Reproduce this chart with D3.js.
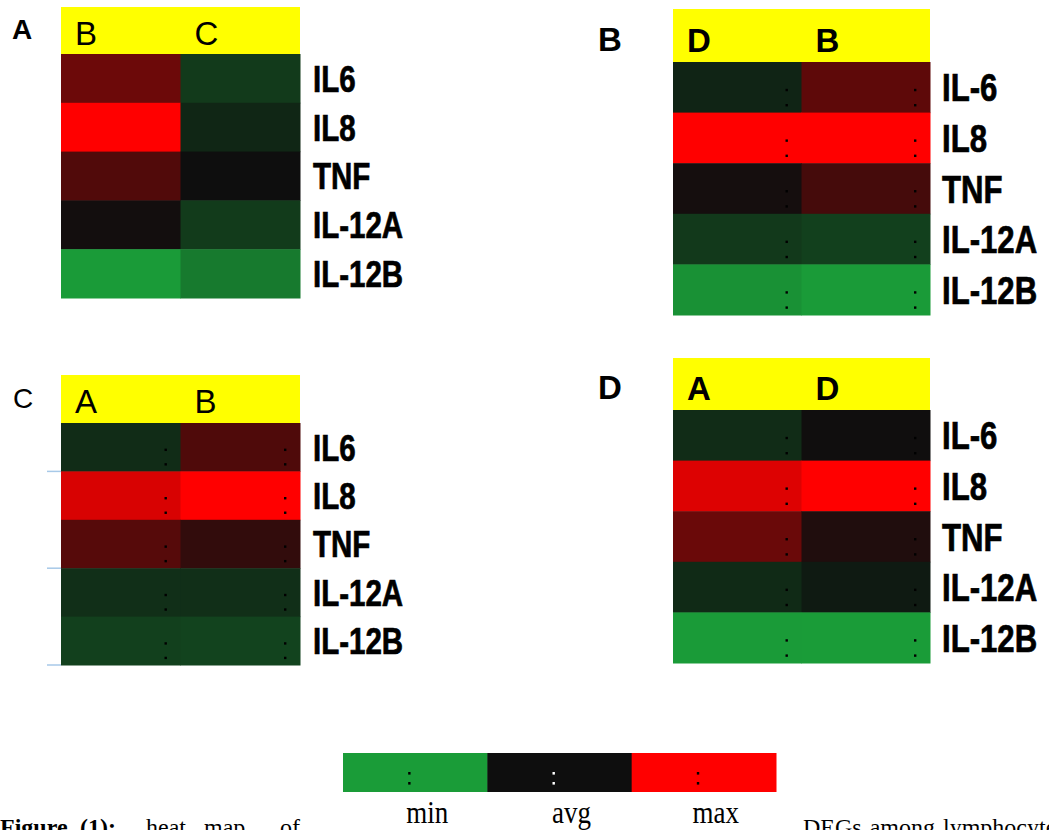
<!DOCTYPE html>
<html>
<head>
<meta charset="utf-8">
<script src="https://cdn.jsdelivr.net/npm/d3@7"></script>
<style>
  html, body { margin: 0; padding: 0; background: #fff; }
  svg { display: block; }
</style>
</head>
<body>
<svg id="chart" width="1049" height="830"></svg>
<script>
// ---------------- DATA ----------------
const panelLabels = ["A", "B", "C", "D"];
const genesAC = ["IL6", "IL8", "TNF", "IL-12A", "IL-12B"];
const genesBD = ["IL-6", "IL8", "TNF", "IL-12A", "IL-12B"];

const groupsA = ["B", "C"];
const groupsB = ["D", "B"];
const groupsC = ["A", "B"];
const groupsD = ["A", "D"];

// expression (scaled -1 = min, 0 = avg, 1 = max), rows = genes, cols = groups
const valuesA = [[0.39, -0.31], [1.00, -0.17], [0.28, 0.00], [0.02, -0.32], [-0.99, -0.76]];
const valuesB = [[-0.155, 0.33], [1.00, 1.00], [0.03, 0.23], [-0.30, -0.35], [-0.92, -0.99]];
const valuesC = [[-0.21, 0.27], [0.84, 1.00], [0.30, 0.15], [-0.23, -0.23], [-0.35, -0.37]];
const valuesD = [[-0.21, 0.01], [0.86, 1.00], [0.38, 0.075], [-0.20, -0.085], [-0.99, -1.00]];

const legendLabels = ["min", "avg", "max"];
const legendValues = [-1, 0, 1];

// ---------------- LAYOUT ----------------
const svg = d3.select("#chart");
svg.append("rect").attr("width", 1049).attr("height", 830).attr("fill", "#fff");

const color = d3.scaleLinear()
  .domain([-1, 0, 1])
  .range(["#1a9c38", "#0e0e0e", "#ff0000"])
  .interpolate(d3.interpolateRgb);

const panels = [
  { label: panelLabels[0], genes: genesAC, groups: groupsA, values: valuesA,
    x0: 61, x1: 300, hTop: 7, hBot: 54, rBot: 298, labX: 12, labY: 39, labSize: 28, labBold: true,
    headBold: false, headY: 45, geneX: 313, geneSize: 36, dots: false, blue: false },
  { label: panelLabels[1], genes: genesBD, groups: groupsB, values: valuesB,
    x0: 673, x1: 930, hTop: 9, hBot: 62, rBot: 315, labX: 598, labY: 51, labSize: 33, labBold: true,
    headBold: true, headY: 52, geneX: 942, geneSize: 38, dots: true, blue: false },
  { label: panelLabels[2], genes: genesAC, groups: groupsC, values: valuesC,
    x0: 61, x1: 300, hTop: 375, hBot: 423, rBot: 665, labX: 13, labY: 408, labSize: 28, labBold: false,
    headBold: false, headY: 413, geneX: 313, geneSize: 36, dots: true, blue: true },
  { label: panelLabels[3], genes: genesBD, groups: groupsD, values: valuesD,
    x0: 673, x1: 930, hTop: 358, hBot: 410, rBot: 663, labX: 598, labY: 399, labSize: 33, labBold: true,
    headBold: true, headY: 400, geneX: 942, geneSize: 38, dots: true, blue: false }
];

panels.forEach(p => {
  const g = svg.append("g");
  const x = d3.scaleBand().domain(p.groups).range([p.x0, p.x1]);
  const y = d3.scaleBand().domain(p.genes).range([p.hBot, p.rBot]);

  // panel label
  g.append("text")
    .attr("x", p.labX).attr("y", p.labY)
    .attr("font-family", "Liberation Sans, Arial, sans-serif")
    .attr("font-size", p.labSize)
    .attr("font-weight", p.labBold ? "bold" : "normal")
    .attr("fill", "#000")
    .text(p.label);

  // yellow header
  g.append("rect")
    .attr("x", p.x0).attr("y", p.hTop)
    .attr("width", p.x1 - p.x0).attr("height", p.hBot - p.hTop)
    .attr("fill", "#ffff00");

  g.selectAll("text.head").data(p.groups).enter().append("text")
    .attr("class", "head")
    .attr("x", d => x(d) + 14)
    .attr("y", p.headY)
    .attr("font-family", "Liberation Sans, Arial, sans-serif")
    .attr("font-size", 33)
    .attr("font-weight", p.headBold ? "bold" : "normal")
    .attr("fill", "#000")
    .text(d => d);

  // cells
  const cells = [];
  p.genes.forEach((gene, i) => p.groups.forEach((grp, j) => cells.push({ gene, grp, v: p.values[i][j] })));

  g.selectAll("rect.cell").data(cells).enter().append("rect")
    .attr("class", "cell")
    .attr("x", d => x(d.grp)).attr("y", d => y(d.gene))
    .attr("width", x.bandwidth() + 0.5).attr("height", y.bandwidth() + 0.5)
    .attr("fill", d => color(d.v));

  // colon-like dot marks
  if (p.dots) {
    const dotFr = [0.55, 0.85];
    const dots = [];
    cells.forEach(c => dotFr.forEach(f => dots.push({ c, f })));
    g.selectAll("rect.dot").data(dots).enter().append("rect")
      .attr("class", "dot")
      .attr("x", d => x(d.c.grp) + x.bandwidth() - 16)
      .attr("y", d => y(d.c.gene) + y.bandwidth() * d.f - 1)
      .attr("width", 2.4).attr("height", 2.4)
      .attr("fill", "#000");
  }

  // gene labels
  g.selectAll("text.gene").data(p.genes).enter().append("text")
    .attr("class", "gene")
    .attr("transform", d => `translate(${p.geneX},${y(d) + y.bandwidth() / 2 + p.geneSize * 0.37}) scale(0.82,1.03)`)
    .attr("font-family", "Liberation Sans, Arial, sans-serif")
    .attr("font-size", p.geneSize)
    .attr("font-weight", "bold")
    .attr("fill", "#000")
    .attr("stroke", "#000")
    .attr("stroke-width", 0.7)
    .text(d => d);

  // faint blue tick marks at the left (panel C)
  if (p.blue) {
    const marks = [p.genes[0], p.genes[2], p.genes[4]];
    g.selectAll("line.blue").data(marks).enter().append("line")
      .attr("x1", p.x0 - 14).attr("x2", p.x0)
      .attr("y1", d => y(d) + y.bandwidth()).attr("y2", d => y(d) + y.bandwidth())
      .attr("stroke", "#a7c9e8").attr("stroke-width", 1.5);
  }
});

// ---------------- LEGEND ----------------
const lx = d3.scaleBand().domain(legendLabels).range([343, 776]);
const lg = svg.append("g");
lg.selectAll("rect.leg").data(legendLabels).enter().append("rect")
  .attr("x", d => lx(d)).attr("y", 753)
  .attr("width", lx.bandwidth() + 0.5).attr("height", 39)
  .attr("fill", (d, i) => color(legendValues[i]));

const ldots = [];
legendLabels.forEach((d, i) => [772, 782].forEach(yy => ldots.push({ d, i, yy })));
lg.selectAll("rect.ldot").data(ldots).enter().append("rect")
  .attr("x", d => lx(d.d) + lx.bandwidth() / 2 - 7)
  .attr("y", d => d.yy)
  .attr("width", 2.4).attr("height", 2.6)
  .attr("fill", d => legendValues[d.i] === 0 ? "#fff" : "#000");

lg.selectAll("text.leglab").data(legendLabels).enter().append("text")
  .attr("transform", d => `translate(${lx(d) + lx.bandwidth() / 2 + 12},823) scale(1,1.18)`)
  .attr("text-anchor", "middle")
  .attr("font-family", "Liberation Serif, 'Times New Roman', serif")
  .attr("font-size", 27)
  .attr("fill", "#000")
  .text(d => d);

// ---------------- CAPTION (cut off at bottom, as in the source figure) ----------------
const capWords = [
  { t: "Figure", x: 0, b: true },
  { t: "(1):", x: 80, b: true },
  { t: "heat", x: 146, b: false },
  { t: "map", x: 204, b: false },
  { t: "of", x: 280, b: false },
  { t: "DEGs among lymphocytes", x: 803, b: false }
];
svg.selectAll("text.cap").data(capWords).enter().append("text")
  .attr("x", d => d.x).attr("y", 835)
  .attr("font-family", "Liberation Serif, 'Times New Roman', serif")
  .attr("font-size", 24)
  .attr("font-weight", d => d.b ? "bold" : "normal")
  .attr("word-spacing", 2)
  .attr("fill", "#000")
  .text(d => d.t);
</script>
</body>
</html>
